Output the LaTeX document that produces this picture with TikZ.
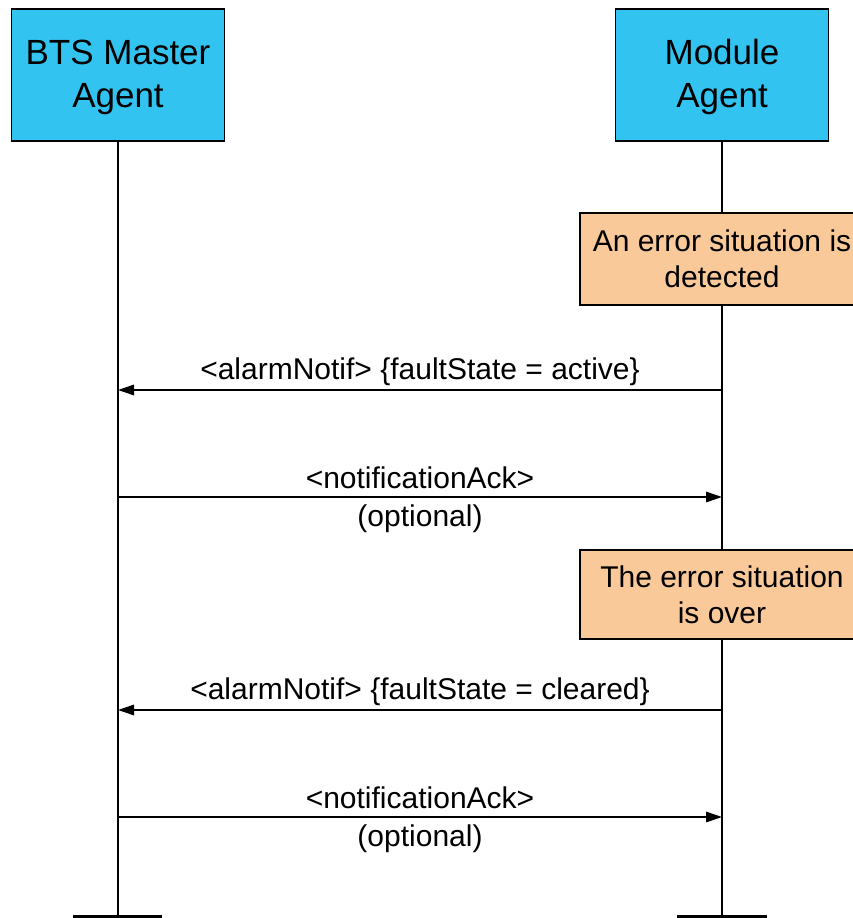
\documentclass[tikz,border=0pt]{standalone}
\usepackage{fontspec}
\setmainfont{Liberation Sans}
\usetikzlibrary{arrows.meta}
\definecolor{agentblue}{RGB}{51,195,240}
\definecolor{noteorange}{RGB}{249,201,153}
% first line padded on top, pushing the centred block down a little
\newcommand{\padtop}[1]{\raisebox{0pt}[\dimexpr\height+4pt\relax]{#1}}
\begin{document}
\begin{tikzpicture}[x=1pt,y=-1pt,
  agent/.style={draw, line width=1.3pt, fill=agentblue, minimum width=213pt,
    minimum height=132pt, inner sep=0pt, align=center,
    font=\fontsize{35}{43}\selectfont},
  note/.style={draw, line width=1.3pt, fill=noteorange, minimum width=284pt,
    inner sep=0pt, align=center, font=\fontsize{30}{36}\selectfont},
  life/.style={line width=1.5pt},
  foot/.style={line width=3pt},
  msg/.style={line width=1.5pt, -{Triangle[length=16pt,width=10.5pt]}},
  msglabel/.style={font=\fontsize{30}{36}\selectfont, inner sep=0pt, anchor=base}]
\useasboundingbox (0,0) rectangle (853,918);
\clip (0,0) rectangle (853,918);

% participants
\node[agent] (bts) at (118,75) {\padtop{BTS Master}\\Agent};
\node[agent] (mod) at (722,75) {\padtop{Module}\\Agent};

% lifelines with their end bars
\coordinate (btsEnd) at (118,916.5);
\coordinate (modEnd) at (722,916.5);
\coordinate (btsFootL) at (73,916.5);
\coordinate (btsFootR) at (162,916.5);
\coordinate (modFootL) at (677,916.5);
\coordinate (modFootR) at (767,916.5);
\draw[life] (bts.south) -- (btsEnd);
\draw[life] (mod.south) -- (modEnd);
\draw[foot] (btsFootL) -- (btsFootR);
\draw[foot] (modFootL) -- (modFootR);

% notes on the module lifeline
\node[note, minimum height=92pt] (err) at (722,259) {An error situation is\\detected};
\node[note, minimum height=89pt] (over) at (722,594.5) {The error situation\\is over};

% message end points
\coordinate (m1r) at (722,390);   \coordinate (m1l) at (118,390);
\coordinate (m2l) at (118,497);   \coordinate (m2r) at (722,497);
\coordinate (m3r) at (722,710);   \coordinate (m3l) at (118,710);
\coordinate (m4l) at (118,817);   \coordinate (m4r) at (722,817);

% messages
\draw[msg] (m1r) -- (m1l);
\node[msglabel] (l1) at (420,379) {<alarmNotif> \{faultState = active\}};

\draw[msg] (m2l) -- (m2r);
\node[msglabel] (l2) at (420,488) {<notificationAck>};
\node[msglabel] (l2b) at (420,526) {(optional)};

\draw[msg] (m3r) -- (m3l);
\node[msglabel] (l3) at (420,699) {<alarmNotif> \{faultState = cleared\}};

\draw[msg] (m4l) -- (m4r);
\node[msglabel] (l4) at (420,808) {<notificationAck>};
\node[msglabel] (l4b) at (420,846) {(optional)};
\end{tikzpicture}
\end{document}
